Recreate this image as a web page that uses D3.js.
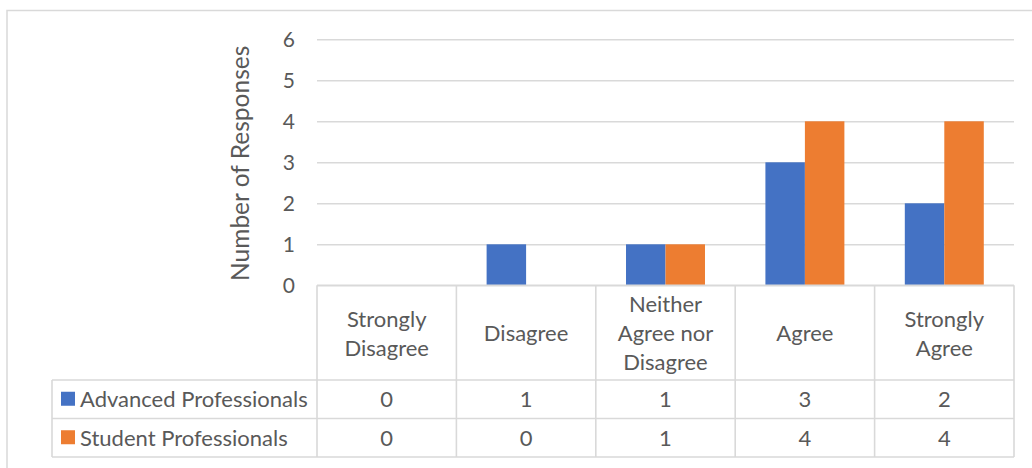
<!DOCTYPE html>
<html>
<head>
<meta charset="utf-8">
<script src="https://cdn.jsdelivr.net/npm/d3@7"></script>
<style>
  html, body { margin: 0; padding: 0; background: #fff; }
  svg { display: block; }
  text { font-family: Lato, "Liberation Sans", sans-serif; fill: #595959; }
</style>
</head>
<body>
<svg id="chart" width="1032" height="468"></svg>
<script>
// Survey responses per answer option
const categories = ["Strongly Disagree", "Disagree", "Neither Agree nor Disagree", "Agree", "Strongly Agree"];
const seriesNames = ["Advanced Professionals", "Student Professionals"];
const advancedValues = [0, 1, 1, 3, 2];
const studentValues = [0, 0, 1, 4, 4];
const yTicks = [0, 1, 2, 3, 4, 5, 6];
const yTitle = "Number of Responses";
const colors = ["#4472C4", "#ED7D31"];

const seriesValues = [advancedValues, studentValues];

const svg = d3.select("#chart");
const gridColor = "#d9d9d9";

// Layout
const plotLeft = 317, plotRight = 1014;
const plotTop = 39.3, plotBottom = 285.3;
const legendLeft = 52;
const headerBottom = 380, row1Bottom = 418.5, row2Bottom = 457;

// Outer chart frame (continues past the viewport on the right and bottom)
svg.append("rect")
  .attr("x", 7).attr("y", 10.5)
  .attr("width", 1100).attr("height", 600)
  .attr("fill", "none").attr("stroke", gridColor).attr("stroke-width", 1.5);

const x0 = d3.scaleBand().domain(categories).range([plotLeft, plotRight]).paddingInner(0).paddingOuter(0);
const x1 = d3.scaleBand().domain(seriesNames).range([0, x0.bandwidth()]).paddingInner(0).paddingOuter(0.765);
const y = d3.scaleLinear().domain([0, 6]).range([plotBottom, plotTop]);

// Gridlines + tick labels
const yAxis = d3.axisLeft(y).tickValues(yTicks).tickSize(-(plotRight - plotLeft)).tickPadding(22).tickFormat(d3.format("d"));
const gy = svg.append("g").attr("transform", `translate(${plotLeft},0)`).call(yAxis);
gy.select(".domain").remove();
gy.selectAll(".tick line").attr("stroke", gridColor).attr("stroke-width", 1.6);
gy.selectAll(".tick text").attr("font-size", 21).attr("fill", "#595959").attr("dy", "0.36em")
  .style("font-family", "Lato, 'Liberation Sans', sans-serif");

// Y axis title
svg.append("text")
  .attr("transform", `translate(239,${(plotTop + plotBottom) / 2 + 1}) rotate(-90)`)
  .attr("text-anchor", "middle").attr("dominant-baseline", "central")
  .attr("font-size", 24.5)
  .text(yTitle);

// Bars
seriesNames.forEach((name, si) => {
  svg.append("g").selectAll("rect")
    .data(categories.map((c, i) => ({ c, v: seriesValues[si][i] })))
    .join("rect")
    .attr("x", d => x0(d.c) + x1(name))
    .attr("width", x1.bandwidth())
    .attr("y", d => y(d.v))
    .attr("height", d => y(0) - y(d.v))
    .attr("fill", colors[si]);
});

// Data table borders
const tb = svg.append("g").attr("stroke", gridColor).attr("stroke-width", 1.6).attr("fill", "none");
const colEdges = categories.map(c => x0(c)).concat([plotRight]);
colEdges.forEach(xv => {
  tb.append("line").attr("x1", xv).attr("x2", xv).attr("y1", plotBottom).attr("y2", row2Bottom);
});
tb.append("line").attr("x1", plotLeft).attr("x2", plotRight).attr("y1", plotBottom).attr("y2", plotBottom);
[headerBottom, row1Bottom, row2Bottom].forEach(yv => {
  tb.append("line").attr("x1", legendLeft).attr("x2", plotRight).attr("y1", yv).attr("y2", yv);
});
tb.append("line").attr("x1", legendLeft).attr("x2", legendLeft).attr("y1", headerBottom).attr("y2", row2Bottom);

// Header labels, wrapped to fit the column
const headerFont = 22;
const lineH = 29;
const wrapWidth = 122;
const measurer = svg.append("text").attr("font-size", headerFont).attr("visibility", "hidden");
function wrap(label) {
  const words = label.split(" ");
  const lines = [];
  let cur = "";
  words.forEach(w => {
    const test = cur ? cur + " " + w : w;
    measurer.text(test);
    if (cur && measurer.node().getComputedTextLength() > wrapWidth) {
      lines.push(cur); cur = w;
    } else cur = test;
  });
  if (cur) lines.push(cur);
  return lines;
}
const headerMid = (plotBottom + headerBottom) / 2;
categories.forEach(c => {
  const lines = wrap(c);
  const cx = x0(c) + x0.bandwidth() / 2;
  const t = svg.append("text").attr("text-anchor", "middle").attr("font-size", headerFont);
  lines.forEach((ln, i) => {
    t.append("tspan").attr("x", cx)
      .attr("y", headerMid + (i - (lines.length - 1) / 2) * lineH)
      .attr("dominant-baseline", "central")
      .text(ln);
  });
});
measurer.remove();

// Legend rows with values
const rowMids = [(headerBottom + row1Bottom) / 2 - 0.5, (row1Bottom + row2Bottom) / 2 - 0.5];
seriesNames.forEach((name, si) => {
  const ym = rowMids[si];
  svg.append("rect").attr("x", 61).attr("y", ym - 7).attr("width", 14).attr("height", 14).attr("fill", colors[si]);
  svg.append("text").attr("x", 80).attr("y", ym).attr("dominant-baseline", "central")
    .attr("font-size", headerFont).text(name);
  categories.forEach((c, i) => {
    svg.append("text").attr("x", x0(c) + x0.bandwidth() / 2).attr("y", ym)
      .attr("text-anchor", "middle").attr("dominant-baseline", "central")
      .attr("font-size", headerFont).text(seriesValues[si][i]);
  });
});
</script>
</body>
</html>
